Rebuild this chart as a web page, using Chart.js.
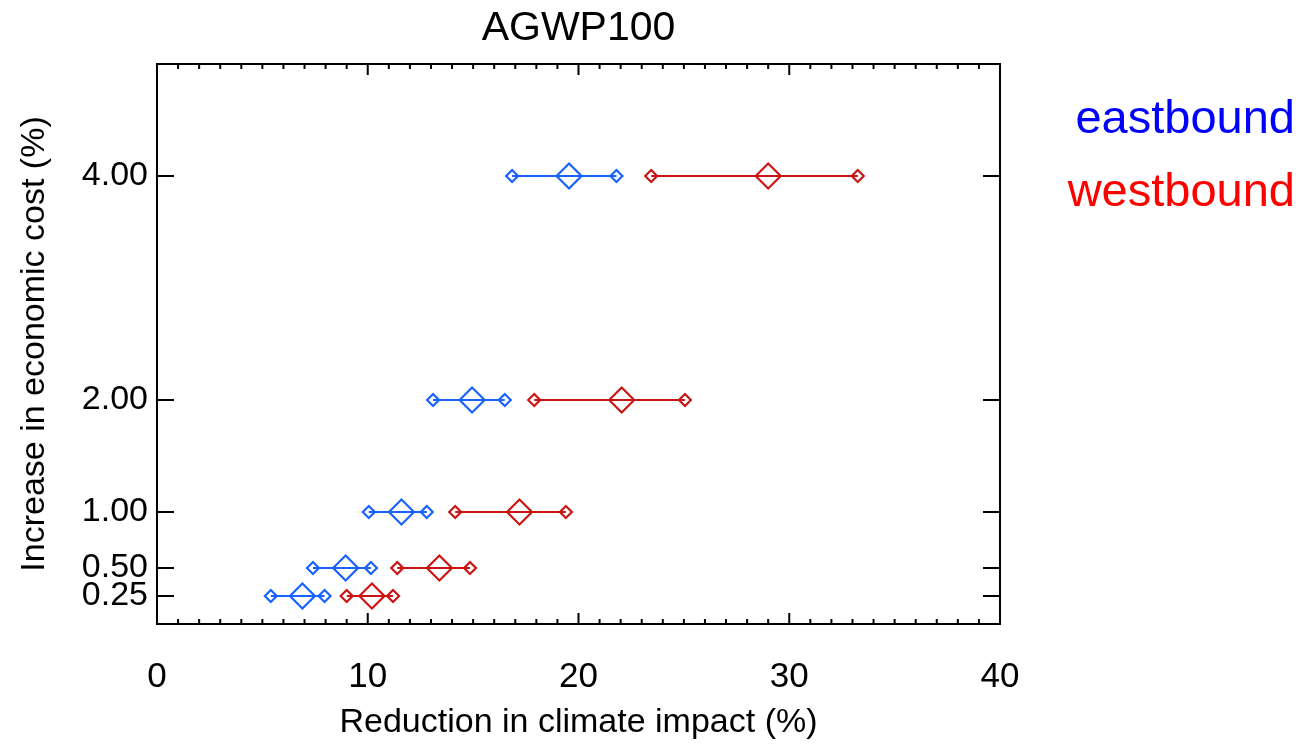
<!DOCTYPE html>
<html lang="en">
  <head>
    <meta charset="UTF-8" />
    <title>AGWP100</title>
    <script src="https://cdn.jsdelivr.net/npm/chart.js"></script>
    <style>
      html, body { margin: 0; padding: 0; background: #fff; }
      #wrap { position: relative; width: 1303px; height: 744px; }
      .legend { position: absolute; right: 8px; font-family: 'Liberation Sans', Arial, sans-serif; font-size: 47px; line-height: 1; }
    </style>
  </head>
  <body>
    <div id="wrap">
      <canvas id="agwp-chart"></canvas>
      <!-- legend labels -->
      <div class="legend" style="top: 93px; color: #0000ff">eastbound</div>
      <div class="legend" style="top: 166px; color: #ff0000">westbound</div>
    </div>

    <script>
      // increase in economic cost (%)
      const costLevels = [0.25, 0.5, 1, 2, 4];
      // reduction in climate impact (%), per cost level
      const eastLow = [5.4, 7.4, 10.05, 13.1, 16.85];
      const eastMid = [6.9, 8.95, 11.6, 14.95, 19.55];
      const eastHigh = [7.95, 10.15, 12.8, 16.5, 21.8];
      const westLow = [9.0, 11.4, 14.15, 17.9, 23.45];
      const westMid = [10.2, 13.4, 17.2, 22.05, 29.0];
      const westHigh = [11.2, 14.85, 19.4, 25.05, 33.25];
      const xTicks = [0, 10, 20, 30, 40];

      const blue = '#1862ff';
      const red = '#cc1414';
      const font = "'Liberation Sans', Arial, sans-serif";

      function rangeLines(low, high, color) {
        return costLevels.map((y, i) => ({
          data: [{ x: low[i], y: y }, { x: high[i], y: y }],
          showLine: true,
          borderColor: color,
          borderWidth: 2,
          pointRadius: 0,
        }));
      }

      function markers(values, color, size) {
        return {
          data: costLevels.map((y, i) => ({ x: values[i], y: y })),
          pointStyle: 'rectRot',
          pointRadius: size,
          pointHoverRadius: size,
          pointBorderWidth: 2.2,
          borderColor: color,
          backgroundColor: 'rgba(0,0,0,0)',
          showLine: false,
        };
      }

      const datasets = [
        ...rangeLines(eastLow, eastHigh, blue),
        ...rangeLines(westLow, westHigh, red),
        markers(eastLow, blue, 6),
        markers(eastHigh, blue, 6),
        markers(eastMid, blue, 12.5),
        markers(westLow, red, 6),
        markers(westHigh, red, 6),
        markers(westMid, red, 12.5),
      ];

      // box frame with inward ticks on all four sides
      const framePlugin = {
        id: 'frame',
        afterDatasetsDraw(chart) {
          const { ctx, chartArea: a, scales } = chart;
          const xs = scales.x, ys = scales.y;
          ctx.save();
          ctx.strokeStyle = '#000';
          ctx.lineWidth = 2;
          ctx.strokeRect(a.left, a.top, a.right - a.left, a.bottom - a.top);
          ctx.beginPath();
          for (let v = xs.min; v <= xs.max; v++) {
            const px = xs.getPixelForValue(v);
            const len = v % 10 === 0 ? 11 : 5;
            ctx.moveTo(px, a.bottom);
            ctx.lineTo(px, a.bottom - len);
            ctx.moveTo(px, a.top);
            ctx.lineTo(px, a.top + len);
          }
          costLevels.forEach((v) => {
            const py = ys.getPixelForValue(v);
            ctx.moveTo(a.left, py);
            ctx.lineTo(a.left + 17, py);
            ctx.moveTo(a.right, py);
            ctx.lineTo(a.right - 17, py);
          });
          ctx.stroke();
          ctx.restore();
        },
      };

      const ctx = document.getElementById('agwp-chart').getContext('2d');
      new Chart(ctx, {
        type: 'scatter',
        data: { datasets },
        plugins: [framePlugin],
        options: {
          responsive: true,
          maintainAspectRatio: false,
          animation: false,
          layout: { padding: { left: 0, right: 303, top: 0, bottom: 0 } },
          plugins: {
            legend: { display: false },
            tooltip: { enabled: false },
            title: {
              display: true,
              text: 'AGWP100',
              fullSize: false,
              color: '#000',
              font: { family: font, size: 41, weight: 'normal', lineHeight: 1 },
              padding: { top: 8, bottom: 15 },
            },
          },
          scales: {
            x: {
              type: 'linear',
              min: 0,
              max: 40,
              afterFit: (s) => { s.height = 120; },
              afterBuildTicks: (s) => { s.ticks = xTicks.map((v) => ({ value: v })); },
              grid: { display: false, drawTicks: false },
              border: { display: false },
              ticks: {
                color: '#000',
                padding: 32,
                maxRotation: 0,
                font: { family: font, size: 35 },
              },
              title: {
                display: true,
                text: 'Reduction in climate impact (%)',
                color: '#000',
                font: { family: font, size: 34, lineHeight: 1 },
                padding: { top: 0, bottom: 4 },
              },
            },
            y: {
              type: 'linear',
              min: 0,
              max: 5,
              afterFit: (s) => { s.width = 157; },
              afterBuildTicks: (s) => { s.ticks = costLevels.map((v) => ({ value: v })); },
              grid: { display: false, drawTicks: false },
              border: { display: false },
              ticks: {
                color: '#000',
                padding: 9,
                autoSkip: false,
                font: { family: font, size: 34 },
                callback: (v) => Number(v).toFixed(2),
              },
              title: {
                display: true,
                text: 'Increase in economic cost (%)',
                color: '#000',
                font: { family: font, size: 34, lineHeight: 1 },
                padding: { top: 18, bottom: 0 },
              },
            },
          },
        },
      });
    </script>
  </body>
</html>
